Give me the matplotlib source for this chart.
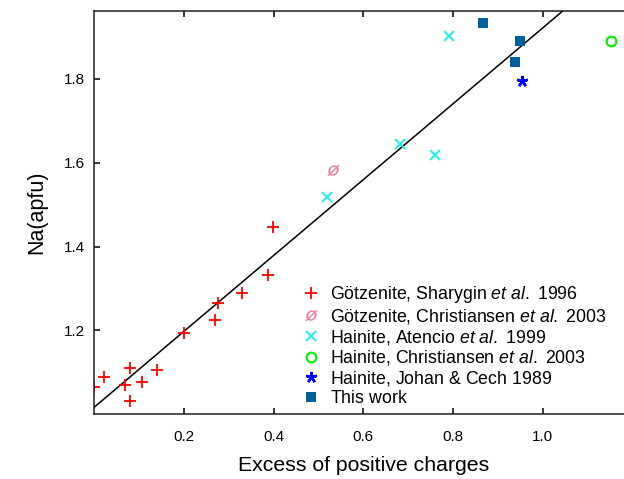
import matplotlib
matplotlib.use('Agg')
import matplotlib.pyplot as plt

plt.rcParams['font.family'] = ['Liberation Sans', 'DejaVu Sans']
plt.rcParams['mathtext.fontset'] = 'custom'
plt.rcParams['mathtext.rm'] = 'Liberation Sans'
plt.rcParams['mathtext.it'] = 'Liberation Sans:italic'

# Götzenite, Sharygin et al. 1996
sharygin_x = [0.000, 0.022, 0.068, 0.080, 0.080, 0.106, 0.140, 0.200, 0.269, 0.276, 0.330, 0.388, 0.399]
sharygin_y = [1.066, 1.090, 1.071, 1.111, 1.032, 1.078, 1.106, 1.195, 1.226, 1.266, 1.290, 1.333, 1.447]
# Götzenite, Christiansen et al. 2003
gchr_x = [0.532]
gchr_y = [1.583]
# Hainite, Atencio et al. 1999
atencio_x = [0.518, 0.681, 0.759, 0.791]
atencio_y = [1.519, 1.645, 1.619, 1.902]
# Hainite, Christiansen et al. 2003
hchr_x = [1.152]
hchr_y = [1.890]
# Hainite, Johan & Cech 1989
johan_x = [0.953]
johan_y = [1.796]
# This work
work_x = [0.867, 0.950, 0.939]
work_y = [1.933, 1.890, 1.840]

# regression line
fit_a, fit_b = 1.017, 0.905
fit_x = [0.0, 1.2]

xticks = [0.2, 0.4, 0.6, 0.8, 1.0]
yticks = [1.2, 1.4, 1.6, 1.8]

fig = plt.figure(figsize=(6.24, 4.79), dpi=100)
ax = fig.add_axes([0.1511, 0.1351, 0.8625, 0.8426])

ax.plot(fit_x, [fit_a + fit_b * x for x in fit_x], color='black', lw=1.1, zorder=1)

ax.plot(sharygin_x, sharygin_y, ls='none', marker='+', ms=9, mew=1.3, color='#ff0000',
        label=r'Götzenite, Sharygin $\it{et\ al.}$ 1996')
ax.plot(gchr_x, gchr_y, ls='none', marker='$Ø$', ms=8.5, mew=0.3, color='#e8779a',
        label=r'Götzenite, Christiansen $\it{et\ al.}$ 2003')
ax.plot(atencio_x, atencio_y, ls='none', marker='x', ms=7, mew=1.4, color='#22eeee',
        label=r'Hainite, Atencio $\it{et\ al.}$ 1999')
ax.plot(hchr_x, hchr_y, ls='none', marker='o', ms=7, mew=1.5, mfc='none', color='#00ee00',
        label=r'Hainite, Christiansen $\it{et\ al.}$ 2003')
ax.plot(johan_x, johan_y, ls='none', marker=(5, 2, 0), ms=8, mew=1.8, color='#0000ff',
        label=r'Hainite, Johan & $\mathrm{Cech}$ 1989')
ax.plot(work_x, work_y, ls='none', marker='s', ms=6.5, mew=0, color='#005f96',
        label=r'This $\mathrm{work}$')

ax.set_xlim(0, 1.2)
ax.set_ylim(1.0, 1.963)
ax.set_xticks(xticks)
ax.set_yticks(yticks)
ax.set_xticklabels(['%.1f' % t for t in xticks])
ax.set_yticklabels(['%.1f' % t for t in yticks])
ax.tick_params(direction='in', length=4.3, width=1.1, labelsize=11, top=True, right=False)
ax.tick_params(axis='x', pad=11.5)
ax.tick_params(axis='y', pad=7)
for s in ax.spines.values():
    s.set_linewidth(1.1)
    s.set_color('#222222')

ax.set_xlabel('Excess of positive charges', fontsize=15.3, labelpad=8.5)
ax.set_ylabel('Na(apfu)', fontsize=15.5, labelpad=12)

ax.legend(loc='upper left', bbox_to_anchor=(302 / 624, 1 - 284 / 479), bbox_transform=fig.transFigure,
          frameon=False, fontsize=12.8, handlelength=1.0, handletextpad=0.55,
          borderpad=0, borderaxespad=0, labelspacing=0.1)

fig.savefig('out.png', dpi=100)
